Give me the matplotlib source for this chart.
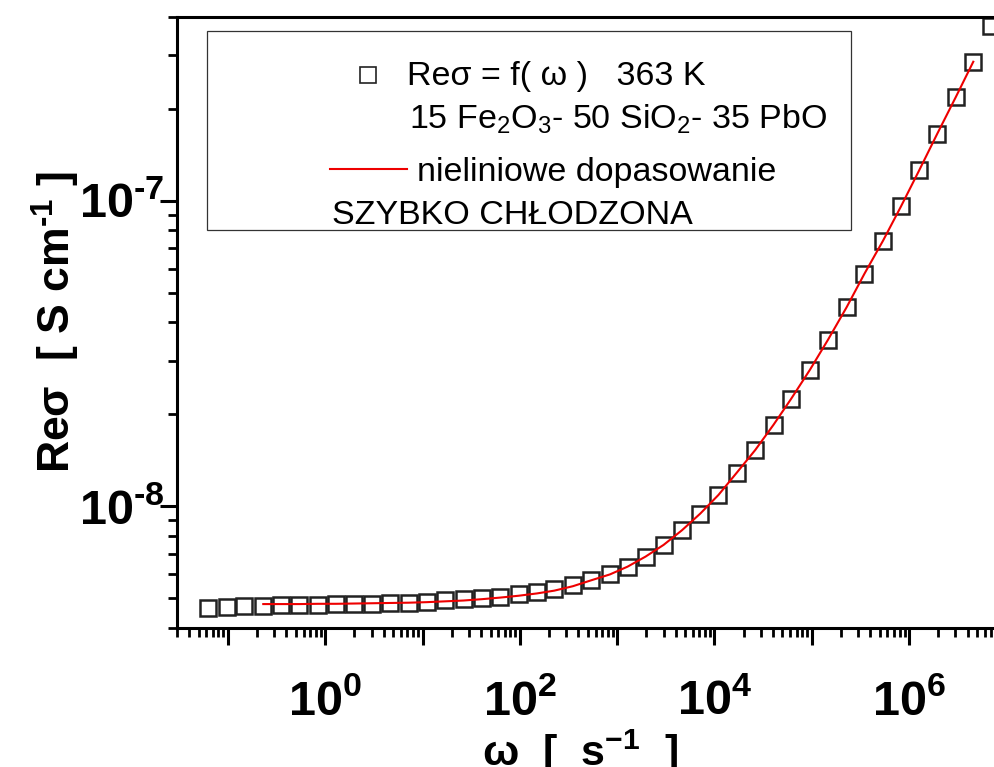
import math

import matplotlib
matplotlib.use('Agg')
import matplotlib.pyplot as plt
from matplotlib.patches import Rectangle
from matplotlib.lines import Line2D
from matplotlib.ticker import LogLocator, FuncFormatter, NullFormatter

plt.rcParams['font.family'] = ['Liberation Sans', 'DejaVu Sans']
plt.rcParams['mathtext.fontset'] = 'custom'
plt.rcParams['mathtext.rm'] = 'Liberation Sans'
plt.rcParams['mathtext.it'] = 'Liberation Sans:italic'
plt.rcParams['mathtext.bf'] = 'Liberation Sans:bold'

# angular frequency [1/s] of the measured points
omega = [0.0623, 0.0977, 0.148, 0.231, 0.353, 0.544, 0.841, 1.29, 1.99, 3.06,
         4.66, 7.18, 11.1, 17.1, 26.4, 40.8, 62.9, 97.0, 150, 226,
         351, 542, 844, 1280, 1960, 3000, 4630, 7150, 11000, 17000,
         26300, 40500, 61500, 95900, 147000, 228000, 348000, 540000, 826000, 1.27e6,
         1.95e6, 3.01e6, 4.57e6, 7.0e6]

# Re sigma [nS/cm] of the measured points
re_sigma_n = [4.64, 4.67, 4.71, 4.73, 4.76, 4.77, 4.77, 4.78, 4.79, 4.79,
              4.82, 4.84, 4.87, 4.93, 4.96, 5.02, 5.07, 5.15, 5.25, 5.35,
              5.52, 5.73, 5.99, 6.35, 6.85, 7.48, 8.35, 9.47, 10.9, 12.9,
              15.3, 18.5, 22.5, 28.0, 35.1, 44.8, 57.7, 74.0, 95.8, 125.7,
              165.7, 217.8, 284.9, 373.7]

# nonlinear fit
fit_omega = omega[3:43]
fit_sigma_n = [4.79, 4.79, 4.79, 4.80, 4.80, 4.81, 4.82, 4.83, 4.84, 4.86,
               4.89, 4.92, 4.97, 5.03, 5.10, 5.19, 5.30, 5.48, 5.73, 5.99,
               6.35, 6.85, 7.48, 8.35, 9.47, 10.9, 12.9, 15.3, 18.5, 22.5,
               28.0, 35.1, 44.8, 57.7, 74.0, 95.8, 125.7, 165.7, 217.8, 284.9]

re_sigma = [v * 1e-9 for v in re_sigma_n]
fit_sigma = [v * 1e-9 for v in fit_sigma_n]

W, H = 995, 767


def px(x, y):
    '''pixel position (from top-left) -> figure fraction'''
    return x / W, 1 - y / H


fig = plt.figure(figsize=(W / 100, H / 100), dpi=100)
ax = fig.add_axes([177 / W, (H - 628) / H, 823 / W, 611.3 / H])

ax.plot(omega, re_sigma, linestyle='none', marker='s', markersize=12,
        markerfacecolor='none', markeredgecolor='#222222', markeredgewidth=1.8,
        zorder=2)
ax.plot(fit_omega, fit_sigma, color='#ee0000', linewidth=1.5, zorder=3)

ax.set_xscale('log')
ax.set_yscale('log')
ax.set_xlim(0.03, 8.6e6)
ax.set_ylim(4.0e-9, 4.0e-7)

ax.xaxis.set_major_locator(LogLocator(base=10, numticks=20))
ax.xaxis.set_minor_locator(LogLocator(base=10, subs=range(2, 10), numticks=200))
ax.yaxis.set_major_locator(LogLocator(base=10, numticks=20))
ax.yaxis.set_minor_locator(LogLocator(base=10, subs=range(2, 10), numticks=200))


def x_fmt(v, pos):
    e = int(round(math.log10(v)))
    if e % 2:
        return ''
    return r'$\mathbf{10^{%d}}$' % e


def y_fmt(v, pos):
    # short hyphen in the exponent, like the original
    e = int(round(math.log10(v)))
    return '$\\mathbf{10^{\u2010%d}}$' % abs(e)


ax.xaxis.set_major_formatter(FuncFormatter(x_fmt))
ax.yaxis.set_major_formatter(FuncFormatter(y_fmt))
ax.xaxis.set_minor_formatter(NullFormatter())
ax.yaxis.set_minor_formatter(NullFormatter())

ax.tick_params(which='major', length=12, width=2.2, direction='out',
               labelsize=35, top=False, right=False)
ax.tick_params(which='minor', length=6.5, width=2.0, direction='out',
               top=False, right=False)
ax.tick_params(axis='x', which='major', pad=25)
ax.tick_params(axis='y', which='major', pad=-3)
for s in ax.spines.values():
    s.set_linewidth(2.2)

ax.set_xlabel(r'$\mathbf{\omega}$  [  s$^{\mathbf{-1}}$  ]', fontsize=31,
              fontweight='bold', va='top')
ax.xaxis.set_label_coords((580 - 177) / 823, (628 - 728) / 611.3)
ax.set_ylabel('Re\u03c3  [ S cm$^{\\mathbf{\u20101}}$ ]', fontsize=32,
              fontweight='bold')
ax.yaxis.set_label_coords((82 - 177) / 823, 0.5)

# legend box
x0, y0 = px(207.5, 230)
x1, y1 = px(851, 31)
fig.patches.append(Rectangle((x0, y0), x1 - x0, y1 - y0, transform=fig.transFigure,
                             fill=False, edgecolor='#333333', linewidth=0.9))
fig.lines.append(Line2D([px(368, 0)[0]], [px(0, 75)[1]], transform=fig.transFigure,
                        marker='s', markersize=12, markerfacecolor='none',
                        markeredgecolor='#222222', markeredgewidth=1.2,
                        linestyle='none'))
fig.lines.append(Line2D([px(330, 0)[0], px(407, 0)[0]], [px(0, 169)[1]] * 2,
                        transform=fig.transFigure, color='#ee0000', linewidth=1.5))

leg_fs = 24.5
fig.text(*px(407, 85), 'Re\u03c3 = f( \u03c9 )   363 K', fontsize=leg_fs, va='baseline')
fig.text(*px(409, 129), r'15 Fe$_2$O$_3$- 50 SiO$_2$- 35 PbO', fontsize=leg_fs,
         va='baseline')
fig.text(*px(417, 181.5), 'nieliniowe dopasowanie', fontsize=leg_fs, va='baseline')
fig.text(*px(332.5, 224), 'SZYBKO CH\u0141ODZONA', fontsize=leg_fs, va='baseline')

fig.savefig('out.png', dpi=100)
